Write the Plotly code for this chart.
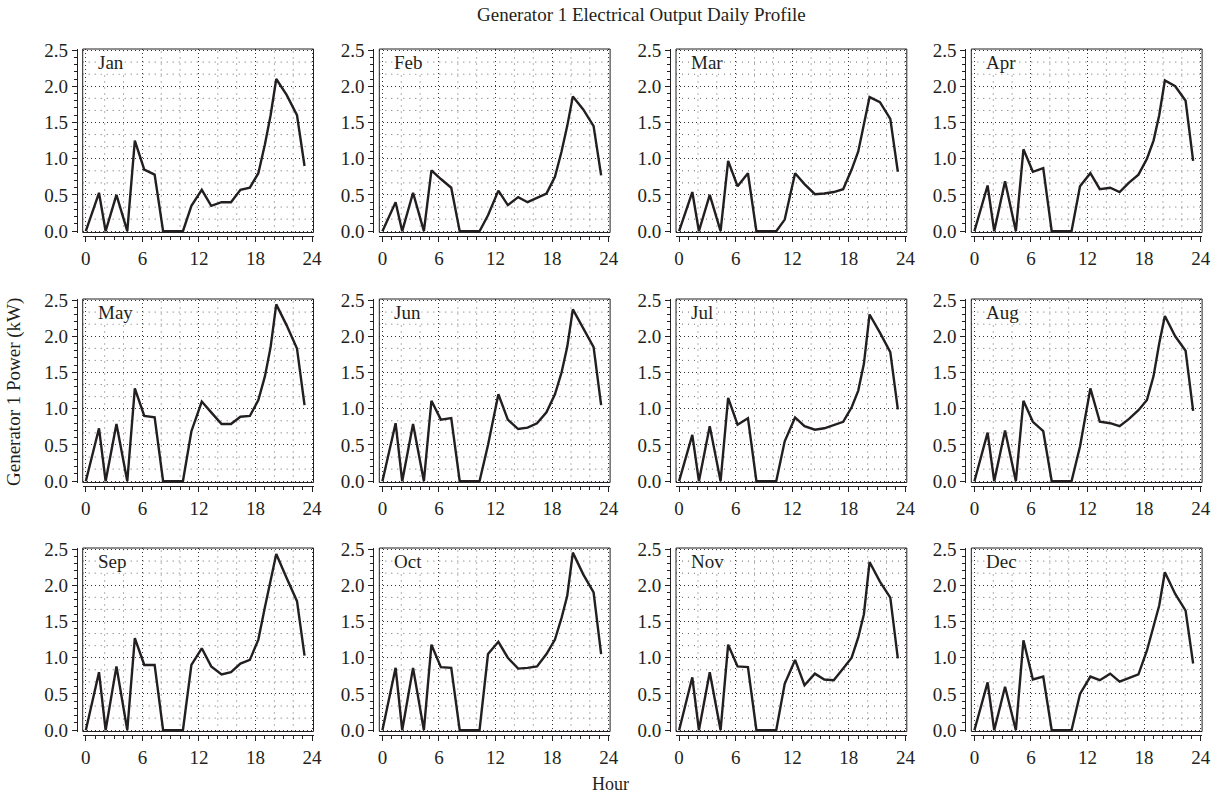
import plotly.graph_objects as go

# ---------------- data ----------------
months = ["Jan", "Feb", "Mar", "Apr", "May", "Jun",
          "Jul", "Aug", "Sep", "Oct", "Nov", "Dec"]

hours = [0.0, 1.4, 2.1, 3.25, 4.4, 5.2, 6.2, 7.3, 8.2, 9.2, 10.3, 11.2,
         12.3, 13.3, 14.4, 15.4, 16.4, 17.4, 18.3, 19.0, 19.6, 20.2, 21.3, 22.4, 23.2]

jan = [0, 0.53, 0, 0.50, 0, 1.25, 0.85, 0.78, 0, 0, 0, 0.35,
       0.57, 0.35, 0.40, 0.40, 0.57, 0.60, 0.80, 1.20, 1.60, 2.10, 1.88, 1.60, 0.90]
feb = [0, 0.40, 0, 0.53, 0, 0.84, 0.72, 0.60, 0, 0, 0, 0.22,
       0.56, 0.36, 0.47, 0.40, 0.46, 0.52, 0.75, 1.10, 1.45, 1.86, 1.68, 1.45, 0.77]
mar = [0, 0.54, 0, 0.50, 0, 0.97, 0.62, 0.80, 0, 0, 0, 0.16,
       0.80, 0.65, 0.51, 0.52, 0.54, 0.58, 0.85, 1.10, 1.50, 1.85, 1.78, 1.55, 0.82]
apr = [0, 0.63, 0, 0.69, 0, 1.13, 0.82, 0.87, 0, 0, 0, 0.62,
       0.80, 0.58, 0.60, 0.54, 0.67, 0.78, 1.00, 1.25, 1.60, 2.08, 2.00, 1.80, 0.97]
may = [0, 0.73, 0, 0.79, 0, 1.28, 0.90, 0.88, 0, 0, 0, 0.69,
       1.10, 0.95, 0.79, 0.79, 0.89, 0.90, 1.12, 1.45, 1.85, 2.44, 2.15, 1.83, 1.05]
jun = [0, 0.80, 0, 0.79, 0, 1.11, 0.85, 0.87, 0, 0, 0, 0.50,
       1.20, 0.85, 0.72, 0.74, 0.80, 0.95, 1.20, 1.50, 1.85, 2.37, 2.12, 1.85, 1.05]
jul = [0, 0.64, 0, 0.76, 0, 1.15, 0.78, 0.87, 0, 0, 0, 0.55,
       0.88, 0.76, 0.71, 0.73, 0.77, 0.82, 1.02, 1.25, 1.62, 2.30, 2.05, 1.78, 0.99]
aug = [0, 0.67, 0, 0.70, 0, 1.11, 0.82, 0.69, 0, 0, 0, 0.48,
       1.28, 0.82, 0.80, 0.76, 0.86, 0.98, 1.12, 1.45, 1.90, 2.28, 2.00, 1.80, 0.97]
sep = [0, 0.80, 0, 0.88, 0, 1.27, 0.90, 0.90, 0, 0, 0, 0.90,
       1.13, 0.88, 0.77, 0.80, 0.92, 0.97, 1.25, 1.70, 2.08, 2.43, 2.10, 1.78, 1.03]
oct_ = [0, 0.86, 0, 0.86, 0, 1.18, 0.87, 0.86, 0, 0, 0, 1.05,
        1.22, 1.00, 0.85, 0.86, 0.88, 1.05, 1.25, 1.55, 1.85, 2.45, 2.15, 1.90, 1.05]
nov = [0, 0.73, 0, 0.80, 0, 1.18, 0.88, 0.87, 0, 0, 0, 0.64,
       0.97, 0.62, 0.78, 0.70, 0.69, 0.85, 1.00, 1.28, 1.60, 2.32, 2.05, 1.83, 0.99]
dec = [0, 0.66, 0, 0.60, 0, 1.24, 0.70, 0.74, 0, 0, 0, 0.50,
       0.74, 0.69, 0.78, 0.67, 0.72, 0.77, 1.10, 1.42, 1.72, 2.18, 1.88, 1.65, 0.92]

series = [jan, feb, mar, apr, may, jun, jul, aug, sep, oct_, nov, dec]

x_ticks = [0, 6, 12, 18, 24]
y_ticks = [0.0, 0.5, 1.0, 1.5, 2.0, 2.5]
x_minor_grid = [2, 4, 8, 10, 14, 16, 20, 22]
y_minor_grid = [k / 6 for k in range(1, 15) if k % 3 != 0]

title_text = "Generator 1 Electrical Output Daily Profile"
x_title = "Hour"
y_title = "Generator 1 Power (kW)"

# ---------------- layout geometry ----------------
W, H = 1220, 797
col_left = [82.7, 379.3, 676.0, 971.3]
row_top = [49.0, 299.0, 548.0]
box_w, box_h = 230.8, 183.5
ink = "#231f20"
FONT = "Liberation Serif"
TICK_SIZE = 19

fig = go.Figure()
layout = dict(
    width=W, height=H,
    margin=dict(l=0, r=0, t=0, b=0),
    paper_bgcolor="white", plot_bgcolor="white",
    template="none",
    font=dict(family=FONT, color=ink, size=15),
    showlegend=False,
)
shapes = []
annotations = []

for i, m in enumerate(months):
    r, c = divmod(i, 4)
    n = i + 1
    xa = "x" if n == 1 else f"x{n}"
    ya = "y" if n == 1 else f"y{n}"
    xkey = "xaxis" if n == 1 else f"xaxis{n}"
    ykey = "yaxis" if n == 1 else f"yaxis{n}"

    fig.add_trace(go.Scatter(
        x=hours, y=series[i], mode="lines",
        line=dict(color=ink, width=2.4),
        xaxis=xa, yaxis=ya, hoverinfo="skip", showlegend=False))

    x0 = col_left[c] / W
    x1 = (col_left[c] + box_w) / W
    y1 = 1 - row_top[r] / H
    y0 = 1 - (row_top[r] + box_h) / H

    layout[xkey] = dict(
        domain=[x0, x1], range=[-0.33, 24.15],
        anchor="free", position=1 - (row_top[r] + box_h + 3.3) / H,
        tickvals=x_ticks, ticktext=[str(v) for v in x_ticks],
        ticks="outside", ticklen=5, tickwidth=1, tickcolor=ink,
        showline=True, linecolor=ink, linewidth=1,
        showgrid=True, gridcolor="#333", griddash="1px,3px", gridwidth=1,
        zeroline=False,
        minor=dict(tick0=0, dtick=1, ticks="outside", ticklen=3,
                   tickwidth=1, tickcolor=ink, showgrid=False),
        tickfont=dict(family=FONT, size=TICK_SIZE, color=ink),
        fixedrange=True,
    )
    layout[ykey] = dict(
        domain=[y0, y1], range=[-0.018, 2.514],
        anchor="free", position=(col_left[c] - 6) / W,
        tickvals=y_ticks, ticktext=[f"{v:.1f}" for v in y_ticks],
        ticks="outside", ticklen=5, tickwidth=1, tickcolor=ink,
        showline=True, linecolor=ink, linewidth=1,
        showgrid=True, gridcolor="#333", griddash="1px,3px", gridwidth=1,
        zeroline=False,
        minor=dict(tick0=0, dtick=0.1, ticks="outside", ticklen=3,
                   tickwidth=1, tickcolor=ink, showgrid=False),
        tickfont=dict(family=FONT, size=TICK_SIZE, color=ink),
        fixedrange=True,
    )

    # minor grid
    for v in x_minor_grid:
        shapes.append(dict(type="line", xref=xa, yref=f"{ya} domain",
                           x0=v, x1=v, y0=0, y1=1, layer="below",
                           line=dict(color="#666", width=1, dash="1px,5px")))
    for v in y_minor_grid:
        shapes.append(dict(type="line", xref=f"{xa} domain", yref=ya,
                           x0=0, x1=1, y0=v, y1=v, layer="below",
                           line=dict(color="#666", width=1, dash="1px,5px")))
    # box
    shapes.append(dict(type="rect", xref=f"{xa} domain", yref=f"{ya} domain",
                       x0=0, x1=1, y0=0, y1=1, layer="above",
                       line=dict(color=ink, width=1)))
    # month label
    annotations.append(dict(
        xref=f"{xa} domain", yref=f"{ya} domain", x=0.06, y=0.925,
        xanchor="left", yanchor="middle", text=m, showarrow=False,
        bgcolor="white", borderpad=0,
        font=dict(family=FONT, size=19, color=ink)))

annotations.append(dict(xref="paper", yref="paper", x=641 / W, y=1 - 14 / H,
                        xanchor="center", yanchor="middle", text=title_text,
                        showarrow=False, font=dict(family=FONT, size=19, color=ink)))
annotations.append(dict(xref="paper", yref="paper", x=610 / W, y=1 - 784 / H,
                        xanchor="center", yanchor="middle", text=x_title,
                        showarrow=False, font=dict(family=FONT, size=18, color=ink)))
annotations.append(dict(xref="paper", yref="paper", x=14 / W, y=1 - 392 / H,
                        xanchor="center", yanchor="middle", text=y_title,
                        textangle=-90, showarrow=False,
                        font=dict(family=FONT, size=19, color=ink)))

layout["shapes"] = shapes
layout["annotations"] = annotations
fig.update_layout(**layout)

fig.write_html(
    "out.html",
    config={"displayModeBar": False},
    post_script="document.body.style.margin='0px';document.body.style.overflow='hidden';",
)
